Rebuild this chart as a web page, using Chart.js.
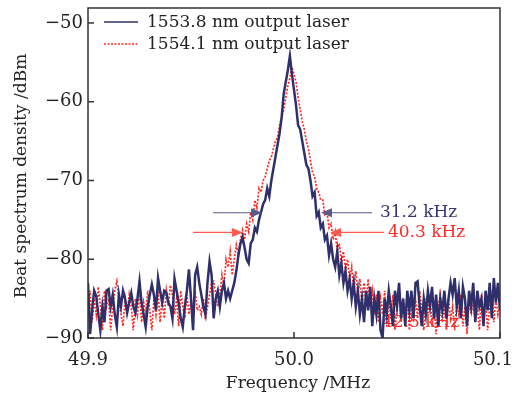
<!DOCTYPE html>
<html>
<head>
<meta charset="utf-8">
<script src="https://cdn.jsdelivr.net/npm/chart.js@4.4.0/dist/chart.umd.min.js"></script>
<style>
  html, body { margin: 0; padding: 0; background: #fff; }
  #wrap { width: 515px; height: 401px; }
</style>
</head>
<body>
<div id="wrap"><canvas id="chart" width="515" height="401"></canvas></div>
<script>
// frequency grid: 49.900 ... 50.100 MHz, 1 kHz apart
const freqStart = 49.9;
const freqStep = 0.001;

// 1553.8 nm output laser (dBm)
const laser15538 = [
  -83, -89.5, -86.5, -84, -84.7, -87, -89, -86, -88, -84,
  -83.8, -86, -84.5, -87, -88.6, -84.5, -86, -84, -85, -86.8,
  -85.5, -84.3, -86, -86.8, -85, -82.8, -85.5, -87, -88.6, -86,
  -84.5, -83.2, -84.5, -86.5, -82.4, -84, -85.5, -84, -84.2, -85.5,
  -86, -87.5, -82.5, -84, -85.5, -87.5, -88.6, -86, -84, -81.3,
  -85, -89, -82, -81, -83, -84.5, -86, -87, -83, -80.3,
  -82, -87.5, -85, -84, -86, -84, -83, -85, -84, -85,
  -84, -83, -81.5, -79.5, -78, -77.2, -78.5, -80, -80.5, -78,
  -77.5, -76, -76.5, -75, -74, -73, -72.5, -71, -72, -70,
  -68.5, -67, -65.5, -64, -62, -59, -57.5, -56, -54.2, -56.5,
  -58.5, -60.5, -63, -63.5, -65, -66.5, -68, -68.5, -70, -72,
  -71.5, -74.5, -74, -76, -75.5, -77.5, -77, -79.5, -78, -80,
  -81, -79, -82, -80.5, -83, -81.5, -84, -82.5, -85, -83,
  -86, -84, -87, -85, -88, -84, -86.5, -83.5, -88.5, -85,
  -87, -84, -89, -90, -85, -87, -84, -86, -88.5, -84,
  -86, -83, -87.5, -85, -88.5, -84, -86.5, -84, -87.5, -83,
  -82.8, -86, -88.5, -85, -87, -84, -86, -83.5, -87.5, -84.5,
  -88.5, -85, -86.5, -84, -87.5, -85, -83, -84.5, -82.4, -86,
  -84, -87.5, -83.5, -85, -88.5, -84, -86, -83, -88, -84,
  -86, -85, -88.5, -84, -86.5, -83, -87.5, -82.4, -85.5, -83,
  -86.5
];

// 1554.1 nm output laser (dBm)
const laser15541 = [
  -86, -84, -88, -85, -87, -83.5, -86, -89, -84, -86,
  -85, -89, -86, -84, -82.8, -85, -87, -88.5, -85, -87,
  -84.5, -86, -89, -85, -87, -84, -88, -85.5, -87, -84,
  -86.5, -89, -85, -87, -84, -88, -85, -87.5, -84, -86,
  -83.3, -84.5, -87, -85, -88.5, -84, -86, -87.5, -84.5, -87,
  -85, -88, -84, -86.5, -86, -87, -85, -87.6, -86, -84.5,
  -83, -82.8, -84.5, -86, -84.5, -82, -83.5, -80, -81, -79,
  -82, -80, -78.2, -79.5, -77.5, -76.3, -77.5, -75.5, -76.5, -74,
  -75, -72.5, -73.5, -71, -71.5, -70, -69.5, -68.5, -67.5, -67,
  -66, -65, -64.5, -63, -62, -61, -59.5, -58, -57, -55.6,
  -56.5, -57.5, -59.5, -61, -62.5, -63.5, -65, -66, -67.5, -69,
  -69.5, -71, -71.5, -72.5, -72.5, -74.5, -74, -76, -75.5, -77.5,
  -76.5, -79, -78, -80.5, -79, -81.5, -80, -82.5, -81, -84,
  -81.5, -84.5, -82.5, -86, -83, -85.5, -82.5, -86, -84, -87,
  -84.5, -88, -85, -87, -84, -88.5, -85, -87.5, -84.5, -89,
  -86, -84, -88, -85.5, -87, -84.5, -89, -86, -88, -85,
  -87.5, -84, -86.5, -89, -85, -87, -84.5, -88.5, -86, -89.5,
  -86, -84.5, -88, -86, -89, -85, -87.5, -86, -89, -85.5,
  -87, -84.5, -88.5, -86, -89.5, -85, -87, -85.5, -88, -86,
  -89, -84.5, -87.5, -85, -89, -86, -84, -88, -85, -87,
  -85.5
];

const seriesNames = ['1553.8 nm output laser', '1554.1 nm output laser'];
const xTicks = [49.9, 50.0, 50.1];
const yTicks = [-90, -80, -70, -60, -50];
const xTitle = 'Frequency /MHz';
const yTitle = 'Beat spectrum density /dBm';

// linewidth markers: [tail freq, tip freq, dBm]
const navyMarks = [[49.9607, 49.9845, -74.1], [50.0379, 50.0131, -74.1]];
const redMarks = [[49.951, 49.9752, -76.6], [50.0437, 50.0175, -76.6]];
const widthLabels = [
  { text: '31.2 kHz', x: 50.0417, y: -74.1, color: '#35366f' },
  { text: '40.3 kHz', x: 50.0456, y: -76.6, color: '#ff2a24' }
];
const bottomLabel = { text: '42.5 kHz', x: 50.0427, y: -88.1, color: '#ff2a24' };

const NAVY = '#2f306b';
const RED = '#ff2a24';
const FONT = '"DejaVu Serif", "Liberation Serif", serif';

const toPoints = arr => arr.map((v, i) => ({ x: +(freqStart + i * freqStep).toFixed(3), y: v }));

const arrow = (ctx, x0, x1, y, color) => {
  const dir = Math.sign(x1 - x0);
  ctx.strokeStyle = color;
  ctx.fillStyle = color;
  ctx.lineWidth = 1.2;
  ctx.beginPath();
  ctx.moveTo(x0, y);
  ctx.lineTo(x1 - dir * 9, y);
  ctx.stroke();
  ctx.beginPath();
  ctx.moveTo(x1, y);
  ctx.lineTo(x1 - dir * 11, y - 4.5);
  ctx.lineTo(x1 - dir * 11, y + 4.5);
  ctx.closePath();
  ctx.fill();
};

const decorPlugin = {
  id: 'decor',
  beforeDatasetsDraw(chart) {
    // this label sits under the traces in the original
    const { ctx, scales: { x, y } } = chart;
    ctx.save();
    ctx.font = '17px ' + FONT;
    ctx.textAlign = 'left';
    ctx.textBaseline = 'middle';
    ctx.fillStyle = bottomLabel.color;
    ctx.fillText(bottomLabel.text, x.getPixelForValue(bottomLabel.x), y.getPixelForValue(bottomLabel.y));
    ctx.restore();
  },
  afterDatasetsDraw(chart) {
    const { ctx, chartArea: a, scales: { x, y } } = chart;
    ctx.save();
    // frame
    ctx.strokeStyle = '#333';
    ctx.lineWidth = 1.5;
    ctx.strokeRect(a.left, a.top, a.right - a.left, a.bottom - a.top);

    // inward ticks and labels
    ctx.fillStyle = '#222';
    ctx.font = '18px ' + FONT;
    ctx.textAlign = 'right';
    ctx.textBaseline = 'middle';
    yTicks.forEach(t => {
      const py = y.getPixelForValue(t);
      ctx.beginPath();
      ctx.moveTo(a.left, py);
      ctx.lineTo(a.left + 6, py);
      ctx.stroke();
      ctx.fillText(t < 0 ? '\u2212' + Math.abs(t) : String(t), a.left - 5, py);
    });
    xTicks.forEach(t => {
      const px = x.getPixelForValue(t);
      ctx.beginPath();
      ctx.moveTo(px, a.bottom);
      ctx.lineTo(px, a.bottom - 6);
      ctx.stroke();
      const label = t.toFixed(1);
      const w = ctx.measureText(label).width;
      const cx = Math.min(px, chart.width - 2 - w / 2);
      ctx.textAlign = 'center';
      ctx.fillText(label, cx, a.bottom + 22);
    });

    // axis titles
    ctx.font = '17px ' + FONT;
    ctx.textAlign = 'center';
    ctx.fillText(xTitle, (a.left + a.right) / 2 + 4, a.bottom + 46);
    ctx.save();
    ctx.translate(22, (a.top + a.bottom) / 2 + 3);
    ctx.rotate(-Math.PI / 2);
    ctx.fillText(yTitle, 0, 0);
    ctx.restore();

    // legend
    ctx.textAlign = 'left';
    seriesNames.forEach((name, i) => {
      const ly = a.top + 14 + i * 22;
      ctx.strokeStyle = i === 0 ? NAVY : RED;
      ctx.lineWidth = i === 0 ? 1.6 : 1.5;
      ctx.setLineDash(i === 0 ? [] : [2, 1.5]);
      ctx.beginPath();
      ctx.moveTo(a.left + 16, ly);
      ctx.lineTo(a.left + 50, ly);
      ctx.stroke();
      ctx.setLineDash([]);
      ctx.fillStyle = '#222';
      ctx.fillText(name, a.left + 59, ly + 1);
    });

    // linewidth arrows
    navyMarks.forEach(m => arrow(ctx, x.getPixelForValue(m[0]), x.getPixelForValue(m[1]), y.getPixelForValue(m[2]), '#5a5b8c'));
    redMarks.forEach(m => arrow(ctx, x.getPixelForValue(m[0]), x.getPixelForValue(m[1]), y.getPixelForValue(m[2]), '#ff5a50'));
    widthLabels.forEach(l => {
      ctx.fillStyle = l.color;
      ctx.fillText(l.text, x.getPixelForValue(l.x), y.getPixelForValue(l.y));
    });
    ctx.restore();
  }
};

new Chart(document.getElementById('chart').getContext('2d'), {
  type: 'line',
  data: {
    datasets: [{
      label: seriesNames[0],
      data: toPoints(laser15538),
      borderColor: NAVY,
      borderWidth: 2.5,
      pointRadius: 0,
      tension: 0
    }, {
      label: seriesNames[1],
      data: toPoints(laser15541),
      borderColor: RED,
      borderWidth: 1.7,
      borderDash: [2, 1.6],
      pointRadius: 0,
      tension: 0
    }]
  },
  options: {
    responsive: false,
    animation: false,
    devicePixelRatio: 1,
    layout: { padding: { left: 0, top: 8, right: 15, bottom: 0 } },
    plugins: { legend: { display: false }, tooltip: { enabled: false } },
    scales: {
      x: {
        type: 'linear',
        min: 49.9,
        max: 50.1,
        grid: { display: false, drawTicks: false },
        border: { display: false },
        ticks: { display: false },
        afterFit: s => { s.height = 63; }
      },
      y: {
        min: -90,
        max: -48.1,
        grid: { display: false, drawTicks: false },
        border: { display: false },
        ticks: { display: false },
        afterFit: s => { s.width = 88; }
      }
    }
  },
  plugins: [decorPlugin]
});
</script>
</body>
</html>
